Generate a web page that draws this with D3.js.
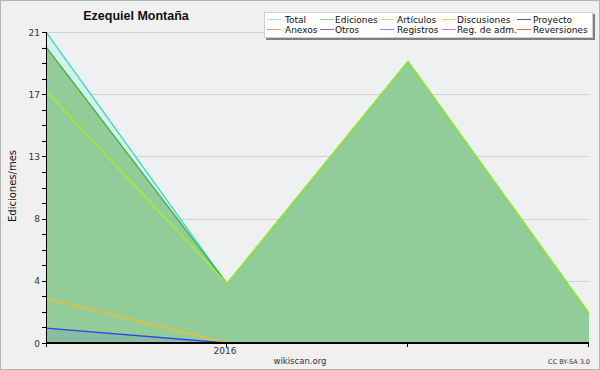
<!DOCTYPE html>
<html><head><meta charset="utf-8">
<script src="https://cdn.jsdelivr.net/npm/d3@7"></script>
<style>body{margin:0;background:#f0f0f0}svg{display:block}</style>
</head><body>
<script>
const months = ["2015-12","2016-01","2016-02","2016-03"];
const xTickLabels = ["", "2016", "", ""];
const total = [21, 4, 19, 2];
const ediciones = [20, 4, 19, 2];
const articulos = [17, 4, 19, 2];
const discusiones = [3, 0, 0, 0];
const proyecto = [0, 0, 0, 0];
const anexos = [0, 0, 0, 0];
const otros = [0, 0, 0, 0];
const registros = [1, 0, 0, 0];
const regAdm = [0, 0, 0, 0];
const reversiones = [0, 0, 0, 0];
const yMax = 21;
const yTickLabels = ["0","4","8","13","17","21"];
const legendNames = ["Total","Ediciones","Artículos","Discusiones","Proyecto","Anexos","Otros","Registros","Reg. de adm.","Reversiones"];

const W = 600, H = 370;
const svg = d3.select("body").append("svg").attr("width", W).attr("height", H);
svg.append("rect").attr("x",0.5).attr("y",0.5).attr("width",W-1).attr("height",H-1)
  .attr("fill","#f0f0f0").attr("stroke","#b4b4b4");

const x = d3.scalePoint().domain(months).range([46, 589]);
const y = d3.scaleLinear().domain([0, yMax]).range([343, 32]);

svg.append("rect").attr("x",46).attr("y",32).attr("width",543).attr("height",311).attr("fill","#eef0f2");

const majors = d3.range(6).map(i => i * yMax / 5);
const minors = d3.range(21).map(i => i * yMax / 20);
svg.append("g").selectAll("line").data(majors.slice(1)).join("line")
  .attr("x1",46).attr("x2",589).attr("y1",d=>Math.round(y(d))+0.5).attr("y2",d=>Math.round(y(d))+0.5)
  .attr("stroke","#cfd1d3").attr("stroke-width",1);

const series = [
  {v: total, c:"#40d8d0", lc:"#a8ece8", fill:"#d6f1ec"},
  {v: ediciones, c:"#40b040", lc:"#90d090", fill:"#91cc99"},
  {v: articulos, c:"#a8f020", lc:"#c8f080"},
  {v: discusiones, c:"#f0c020", lc:"#f0d070"},
  {v: proyecto, c:"#505050", lc:"#606060"},
  {v: anexos, c:"#f08040", lc:"#f0a070"},
  {v: otros, c:"#8040d0", lc:"#9060d8"},
  {v: registros, c:"#3040f0", lc:"#8090f0", fill:"rgba(64,80,240,0.12)"},
  {v: regAdm, c:"#c040e0", lc:"#d070e8"},
  {v: reversiones, c:"#e04040", lc:"#e86060"}
];
const area = d3.area().x((d,i)=>x(months[i])).y0(y(0)).y1(d=>y(d));
const line = d3.line().x((d,i)=>x(months[i])).y(d=>y(d));
series.filter(s=>s.fill).forEach(s=>{
  svg.append("path").attr("d", area(s.v)).attr("fill", s.fill);
});
series.forEach(s=>{
  svg.append("path").attr("d", line(s.v)).attr("fill","none").attr("stroke", s.c).attr("stroke-width",1.3);
});

// axes on top
const ax = svg.append("g").attr("font-family","DejaVu Sans").attr("font-size",9).attr("fill","#222");
ax.append("line").attr("x1",46).attr("x2",589).attr("y1",343).attr("y2",343).attr("stroke","#000").attr("stroke-width",2);
ax.append("line").attr("x1",46.5).attr("x2",46.5).attr("y1",32).attr("y2",347).attr("stroke","#000");
ax.selectAll(".mn").data(minors).join("line")
  .attr("x1",42).attr("x2",46).attr("y1",d=>Math.round(y(d))+0.5).attr("y2",d=>Math.round(y(d))+0.5).attr("stroke","#000");
ax.selectAll(".mj").data(majors).join("text")
  .attr("x",40).attr("y",d=>y(d)+3.5).attr("text-anchor","end").attr("fill","#333").text((d,i)=>yTickLabels[i]);
ax.selectAll(".xt").data(months.slice(1)).join("line")
  .attr("x1",d=>Math.round(x(d))-0.5).attr("x2",d=>Math.round(x(d))-0.5).attr("y1",343).attr("y2",347).attr("stroke","#000");
ax.selectAll(".xl").data(months).join("text")
  .attr("x",d=>x(d)-2).attr("y",354).attr("text-anchor","middle").attr("fill","#333").text((d,i)=>xTickLabels[i]);

svg.append("text").attr("x",12).attr("y",186).attr("transform","rotate(-90,12,186)")
  .attr("text-anchor","middle").attr("dominant-baseline","central")
  .attr("font-family","DejaVu Sans").attr("font-size",10).attr("fill","#111").text("Ediciones/mes");

svg.append("text").attr("x",136).attr("y",19.5).attr("text-anchor","middle")
  .attr("font-family","Liberation Sans").attr("font-weight","bold").attr("font-size",12.5).attr("fill","#111").text("Ezequiel Montaña");

svg.append("text").attr("x",300).attr("y",364).attr("text-anchor","middle")
  .attr("font-family","DejaVu Sans").attr("font-size",8.5).attr("fill","#333").text("wikiscan.org");
svg.append("text").attr("x",590).attr("y",364).attr("text-anchor","end")
  .attr("font-family","DejaVu Sans").attr("font-size",6.5).attr("fill","#333").text("CC BY-SA 3.0");

// legend
const lg = svg.append("g");
lg.append("rect").attr("x",266).attr("y",14).attr("width",329).attr("height",26).attr("fill","#808080");
lg.append("rect").attr("x",264.5).attr("y",12.5).attr("width",328).attr("height",25).attr("fill","#fff").attr("stroke","#d0d0d0");
const colX = [267, 320, 380, 442, 517];
const colT = [285, 335, 397, 457, 533];
series.forEach((s,i)=>{
  const r = Math.floor(i/5), c = i%5;
  const ly = r===0 ? 19.5 : 29.5;
  lg.append("line").attr("x1",colX[c]).attr("x2",colX[c]+14).attr("y1",ly).attr("y2",ly).attr("stroke",s.lc).attr("stroke-width",1);
  lg.append("text").attr("x",colT[c]).attr("y",ly+3.5).attr("font-family","DejaVu Sans").attr("font-size",9).attr("fill","#111").text(legendNames[i]);
});
</script>
</body></html>
